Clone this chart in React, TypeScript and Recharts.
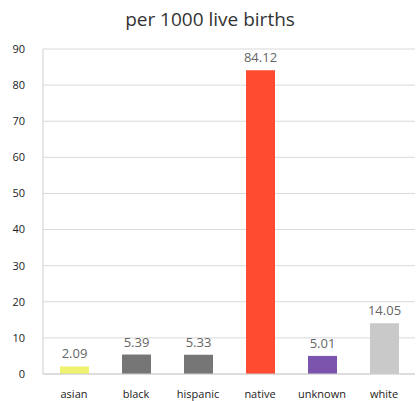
import React from "react";
import { BarChart, Bar, XAxis, YAxis, CartesianGrid, Cell, LabelList } from "recharts";

const categories = ["asian", "black", "hispanic", "native", "unknown", "white"];
const values = [2.09, 5.39, 5.33, 84.12, 5.01, 14.05];
const colors = ["#eef26e", "#767676", "#767676", "#ff4b2f", "#7b54ad", "#c9c9c9"];
const yTicks = [0, 10, 20, 30, 40, 50, 60, 70, 80, 90];

const data = categories.map((c, i) => ({ name: c, value: values[i] }));

export default function App() {
  return (
    <div style={{ position: "absolute", left: 0, top: 0, width: 420, height: 401, background: "#fff" }}>
      <div
        style={{
          position: "absolute",
          left: 0,
          top: 6,
          width: 420,
          textAlign: "center",
          fontFamily: "'Open Sans', sans-serif",
          fontSize: 19,
          color: "#333",
        }}
      >
        per 1000 live births
      </div>
      <BarChart
        width={420}
        height={401}
        data={data}
        margin={{ top: 49, right: 5, bottom: 0, left: 0 }}
        barSize={29}
      >
        <CartesianGrid vertical={false} stroke="#d9d9d9" />
        <YAxis
          domain={[0, 90]}
          ticks={yTicks}
          width={43}
          axisLine={{ stroke: "#cfcfcf" }}
          tickLine={false}
          tick={{ fill: "#222", fontSize: 11, fontFamily: "'Open Sans', sans-serif" }}
          tickMargin={12}
          interval={0}
        />
        <XAxis
          dataKey="name"
          height={27}
          axisLine={{ stroke: "#cfcfcf" }}
          tickLine={false}
          tickMargin={10}
          tick={{ fill: "#222", fontSize: 11, fontFamily: "'Open Sans', sans-serif" }}
          interval={0}
        />
        <Bar dataKey="value" isAnimationActive={false}>
          {data.map((d, i) => (
            <Cell key={d.name} fill={colors[i]} />
          ))}
          <LabelList
            dataKey="value"
            position="top"
            offset={8}
            fill="#666"
            fontSize={13}
            fontFamily="'Open Sans', sans-serif"
            formatter={(v: number) => v.toFixed(2)}
          />
        </Bar>
      </BarChart>
    </div>
  );
}
